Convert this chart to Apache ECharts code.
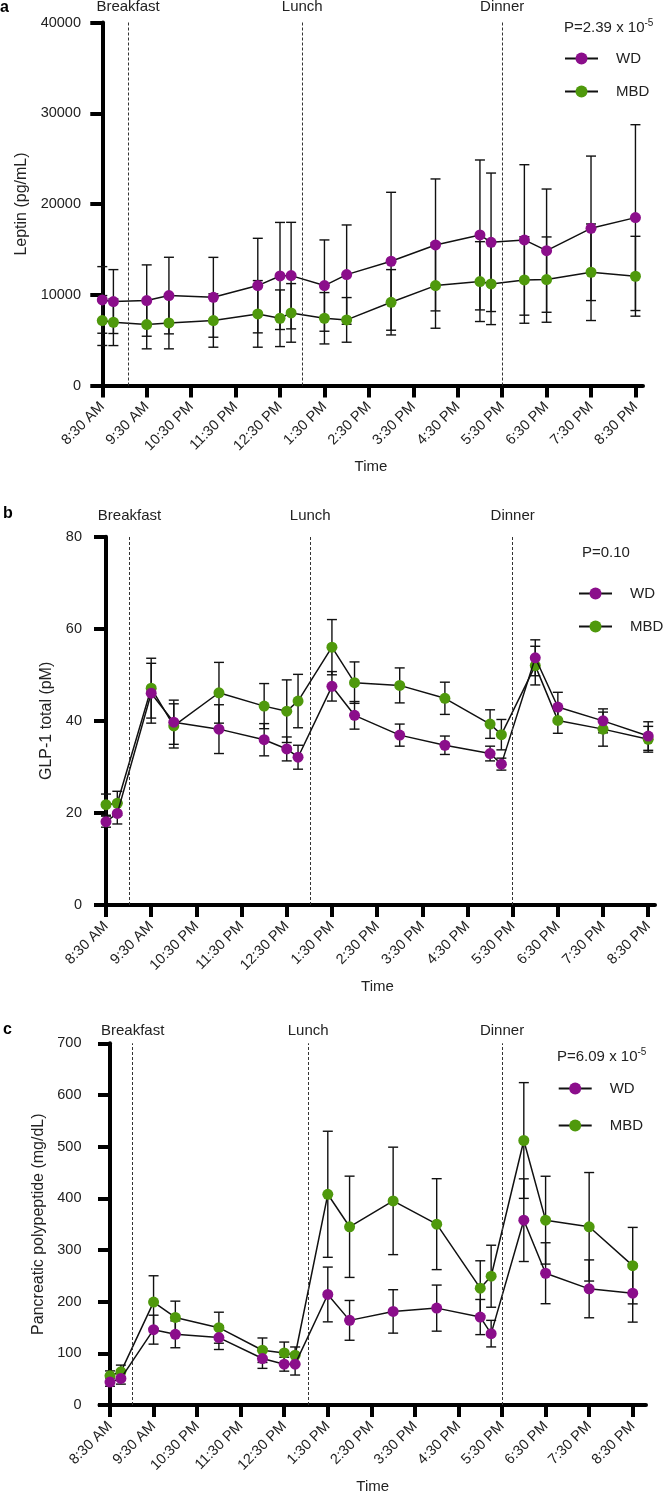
<!DOCTYPE html>
<html>
<head>
<meta charset="utf-8">
<script src="https://cdn.jsdelivr.net/npm/echarts@6/dist/echarts.min.js"></script>
<style>
  html, body { margin: 0; padding: 0; background: #fff; }
  #chart { width: 665px; height: 1495px; }
</style>
</head>
<body>
<div id="chart"></div>
<script>
    // sampling times, hours after 8:30 AM
    var hours = [0, 0.25, 1, 1.5, 2.5, 3.5, 4, 4.25, 5, 5.5, 6.5, 7.5, 8.5, 8.75, 9.5, 10, 11, 12];
    var tickHours = [0, 1, 2, 3, 4, 5, 6, 7, 8, 9, 10, 11, 12];
    var tickLabels = ['8:30 AM', '9:30 AM', '10:30 PM', '11:30 PM', '12:30 PM', '1:30 PM', '2:30 PM',
        '3:30 PM', '4:30 PM', '5:30 PM', '6:30 PM', '7:30 PM', '8:30 PM'];
    var mealNames = ['Breakfast', 'Lunch', 'Dinner'];

    // a - leptin
    var leptinMeals = [0.58, 4.5, 9];
    var leptinWD = [9430, 9250, 9360, 9910, 9720, 11010, 12070, 12110, 11010, 12220, 13690, 15490, 16590, 15780, 16040, 14860, 17320, 18500];
    var leptinWDErr = [3670, 3520, 3930, 4220, 4400, 5210, 5900, 5870, 5030, 5470, 7600, 7270, 8260, 7630, 8290, 6790, 7960, 10240];
    var leptinMBD = [7160, 6970, 6720, 6900, 7160, 7890, 7410, 8000, 7410, 7230, 9170, 11010, 11450, 11190, 11630, 11670, 12480, 12040];
    var leptinMBDErr = [2750, 2570, 2680, 2860, 2940, 3670, 3120, 3230, 2830, 2460, 3600, 4700, 4400, 4480, 4770, 4700, 5320, 4400];

    // b - GLP-1
    var glpMeals = [0.52, 4.52, 9];
    var glpWD = [18.1, 19.9, 46.0, 39.7, 38.2, 35.9, 33.9, 32.1, 47.5, 41.2, 36.9, 34.7, 32.9, 30.6, 53.7, 43.0, 40.0, 36.7];
    var glpWDErr = [1.2, 2.3, 6.5, 4.8, 5.3, 3.5, 2.6, 2.6, 3.2, 3.0, 2.4, 2.0, 1.6, 1.3, 3.9, 3.2, 2.6, 3.1];
    var glpMBD = [21.8, 22.1, 47.1, 38.9, 46.1, 43.2, 42.1, 44.3, 56.0, 48.3, 47.7, 44.9, 39.3, 37.0, 52.0, 40.1, 38.2, 36.0];
    var glpMBDErr = [2.3, 2.6, 6.5, 4.8, 6.6, 4.9, 6.8, 5.8, 6.0, 4.5, 3.8, 3.5, 3.1, 3.3, 4.2, 2.8, 3.7, 2.8];

    // c - pancreatic polypeptide
    var ppMeals = [0.52, 4.55, 9];
    var ppWD = [44.3, 51.4, 145.8, 136.8, 130.4, 89.9, 79.0, 79.0, 213.9, 163.8, 181.1, 187.5, 170.2, 138.1, 357.7, 255.0, 224.8, 216.4];
    var ppWDErr = [8, 11, 28, 26, 23, 19, 13.5, 21, 53, 38.5, 42, 44.6, 34, 25.7, 80, 59, 56, 56];
    var ppMBD = [56.5, 64.2, 199.1, 169.5, 149.6, 106.0, 100.8, 96.3, 407.8, 344.9, 395.0, 350.0, 226.1, 249.2, 511.9, 357.7, 344.9, 269.7];
    var ppMBDErr = [9.5, 13, 51, 31.5, 30, 23.7, 21, 16, 122, 98, 104, 88, 53, 60, 112, 85, 105, 74];

    var FONT = '"Liberation Sans", Arial, sans-serif';
    var PURPLE = '#8b0e8b';
    var GREEN = '#4f990c';
    var INK = '#111';

    var panels = [
        {top: 22.5, height: 363, left: 99, width: 544, xmin: -0.074, xmax: 12.17,
            ymax: 40000, step: 10000, yname: 'Leptin (pg/mL)', yGap: 66, meals: leptinMeals, mealGap: 8,
            wd: leptinWD, wdErr: leptinWDErr, mbd: leptinMBD, mbdErr: leptinMBDErr},
        {top: 536.7, height: 368.3, left: 100, width: 555, xmin: -0.133, xmax: 12.15,
            ymax: 80, step: 20, yname: 'GLP-1 total (pM)', yGap: 42, meals: glpMeals, mealGap: 13,
            wd: glpWD, wdErr: glpWDErr, mbd: glpMBD, mbdErr: glpMBDErr},
        {top: 1043.3, height: 363.2, left: 99.5, width: 546.5, xmin: -0.241, xmax: 12.305,
            ymax: 700, step: 100, yname: 'Pancreatic polypeptide (mg/dL)', yGap: 49, meals: ppMeals, mealGap: 5,
            wd: ppWD, wdErr: ppWDErr, mbd: ppMBD, mbdErr: ppMBDErr}
    ];

    function errRender(params, api) {
        var x = api.value(0);
        var top = api.coord([x, api.value(2)]);
        var bot = api.coord([x, api.value(1)]);
        var w = 5;
        var st = {stroke: INK, lineWidth: 1.4};
        return {type: 'group', children: [
            {type: 'line', shape: {x1: top[0], y1: top[1], x2: bot[0], y2: bot[1]}, style: st},
            {type: 'line', shape: {x1: top[0] - w, y1: top[1], x2: top[0] + w, y2: top[1]}, style: st},
            {type: 'line', shape: {x1: bot[0] - w, y1: bot[1], x2: bot[0] + w, y2: bot[1]}, style: st}
        ]};
    }

    function pairs(mean) {
        return hours.map(function (h, i) { return [h, mean[i]]; });
    }
    function bars(mean, err) {
        return hours.map(function (h, i) { return [h, mean[i] - err[i], mean[i] + err[i]]; });
    }

    var grid = [], xAxis = [], yAxis = [], series = [];
    panels.forEach(function (p, k) {
        grid.push({left: p.left, top: p.top, width: p.width, height: p.height});
        xAxis.push({
            type: 'value', gridIndex: k, min: p.xmin, max: p.xmax,
            name: 'Time', nameLocation: 'middle', nameGap: 74,
            nameTextStyle: {fontFamily: FONT, fontSize: 15, color: '#222'},
            axisLine: {onZero: false, lineStyle: {color: '#000', width: 4}},
            axisTick: {customValues: tickHours, length: 12, lineStyle: {color: '#000', width: 4}},
            axisLabel: {customValues: tickHours, rotate: 45, margin: 19, fontFamily: FONT, fontSize: 14.5, color: '#222',
                formatter: function (v) { return tickLabels[tickHours.indexOf(Math.round(v))]; }},
            splitLine: {show: false}
        });
        yAxis.push({
            type: 'value', gridIndex: k, min: 0, max: p.ymax, interval: p.step,
            name: p.yname, nameLocation: 'middle', nameGap: p.yGap,
            nameTextStyle: {fontFamily: FONT, fontSize: 16, color: '#222'},
            axisLine: {show: true, lineStyle: {color: '#000', width: 4}},
            axisTick: {show: true, length: 12, lineStyle: {color: '#000', width: 4}},
            axisLabel: {margin: 18, fontFamily: FONT, fontSize: 14.5, color: '#222',
                formatter: function (v) { return String(v); }},
            splitLine: {show: false}
        });
        series.push({
            name: 'MBD err', type: 'custom', xAxisIndex: k, yAxisIndex: k, renderItem: errRender,
            encode: {x: 0, y: [1, 2]}, data: bars(p.mbd, p.mbdErr), z: 2, silent: true
        });
        series.push({
            name: 'WD err', type: 'custom', xAxisIndex: k, yAxisIndex: k, renderItem: errRender,
            encode: {x: 0, y: [1, 2]}, data: bars(p.wd, p.wdErr), z: 2, silent: true
        });
        series.push({
            name: 'MBD', type: 'line', xAxisIndex: k, yAxisIndex: k, data: pairs(p.mbd),
            symbol: 'circle', symbolSize: 11, z: 3,
            itemStyle: {color: GREEN}, lineStyle: {color: INK, width: 1.5},
            markLine: {
                silent: true, symbol: 'none',
                lineStyle: {color: '#333', width: 1, type: [3, 2]},
                label: {show: true, position: 'end', distance: p.mealGap, formatter: '{b}',
                    fontFamily: FONT, fontSize: 15, color: '#222'},
                data: p.meals.map(function (m, i) { return {xAxis: m, name: mealNames[i]}; })
            }
        });
        series.push({
            name: 'WD', type: 'line', xAxisIndex: k, yAxisIndex: k, data: pairs(p.wd),
            symbol: 'circle', symbolSize: 11, z: 4,
            itemStyle: {color: PURPLE}, lineStyle: {color: INK, width: 1.5}
        });
    });

    var legendBase = {
        orient: 'vertical', data: ['WD', 'MBD'], selectedMode: false, padding: 0,
        itemWidth: 33, itemHeight: 15,
        lineStyle: {width: 2},
        textStyle: {fontFamily: FONT, fontSize: 15, color: '#222', padding: [0, 0, 0, 13]}
    };

    var pText = function (x, y, main, sup) {
        return {
            type: 'text', x: x, y: y,
            style: {
                text: sup ? '{a|' + main + '}{s|' + sup + '}' : '{a|' + main + '}',
                rich: {
                    a: {fontFamily: FONT, fontSize: 15, fill: '#222'},
                    s: {fontFamily: FONT, fontSize: 10, fill: '#222', padding: [0, 0, 9, 0]}
                },
                verticalAlign: 'middle'
            }
        };
    };
    var letter = function (t, x, y) {
        return {type: 'text', x: x, y: y,
            style: {text: t, font: 'bold 16px ' + FONT, fill: '#000', verticalAlign: 'middle'}};
    };

    var myChart = echarts.init(document.getElementById('chart'), null, {renderer: 'canvas'});
    var option = {
        animation: false,
        backgroundColor: '#fff',
        grid: grid,
        xAxis: xAxis,
        yAxis: yAxis,
        legend: [
            Object.assign({}, legendBase, {left: 564, top: 51, itemGap: 18}),
            Object.assign({}, legendBase, {left: 578, top: 586, itemGap: 18}),
            Object.assign({}, legendBase, {left: 557.7, top: 1081, itemGap: 22})
        ],
        graphic: [
            letter('a', 0, 8),
            letter('b', 3, 514),
            letter('c', 3, 1030),
            pText(564, 28, 'P=2.39 x 10', '-5'),
            pText(582, 553, 'P=0.10'),
            pText(557, 1057, 'P=6.09 x 10', '-5')
        ],
        series: series
    };

    myChart.setOption(option);
</script>
</body>
</html>
